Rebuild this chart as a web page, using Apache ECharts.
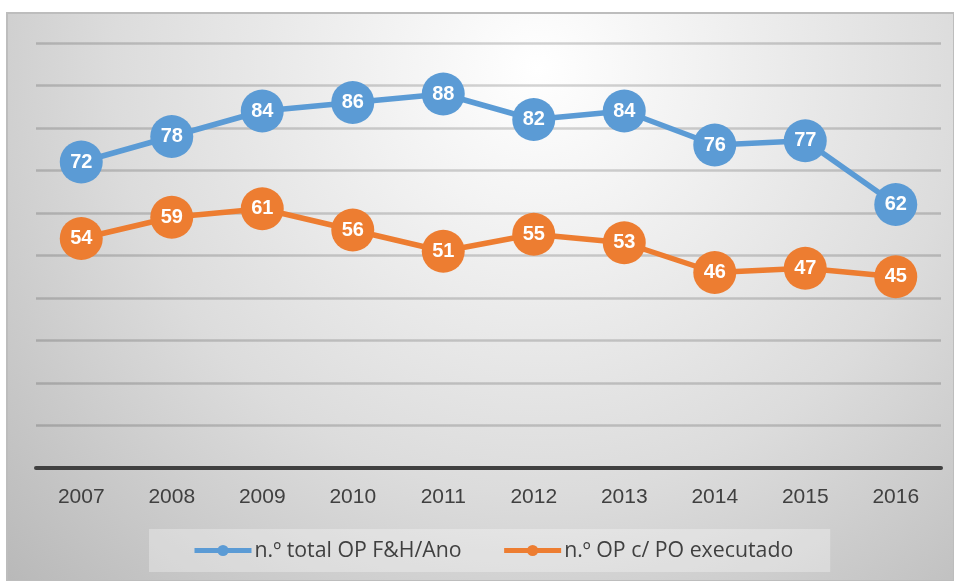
<!DOCTYPE html>
<html>
<head>
<meta charset="utf-8">
<script src="https://cdn.jsdelivr.net/npm/echarts@6/dist/echarts.min.js"></script>
<style>
html,body{margin:0;padding:0;background:#fff;}
#chart{width:954px;height:581px;}
</style>
</head>
<body>
<div id="chart"></div>
<script>
var categories = ['2007','2008','2009','2010','2011','2012','2013','2014','2015','2016'];
var seriesTotalName = 'n.º total OP F&H/Ano';
var seriesTotal = [72, 78, 84, 86, 88, 82, 84, 76, 77, 62];
var seriesExecName = 'n.º OP c/ PO executado';
var seriesExec = [54, 59, 61, 56, 51, 55, 53, 46, 47, 45];
var yTicks = [0, 10, 20, 30, 40, 50, 60, 70, 80, 90, 100];

var chart = echarts.init(document.getElementById('chart'), null, {renderer: 'canvas'});
var FONT = 'Liberation Sans';
function lineSeries(name, data, color) {
  return {
    name: name,
    type: 'line',
    data: data,
    symbol: 'circle',
    symbolSize: 43,
    z: 5,
    lineStyle: {color: color, width: 5.5},
    itemStyle: {color: color},
    label: {
      show: true,
      position: 'inside',
      color: '#ffffff',
      fontWeight: 'bold',
      fontSize: 20,
      fontFamily: FONT
    },
    emphasis: {disabled: true},
    animation: false
  };
}
chart.setOption({
  animation: false,
  graphic: [{
    type: 'rect',
    z: -10,
    silent: true,
    shape: {x: 7, y: 13, width: 947, height: 568},
    style: {
      fill: {
        type: 'radial', x: 0.56, y: 0.1, r: 1.35,
        colorStops: [
          {offset: 0, color: '#ffffff'},
          {offset: 0.55, color: '#dcdcdc'},
          {offset: 1, color: '#b5b5b5'}
        ]
      },
      stroke: '#bdbdbd',
      lineWidth: 2
    }
  }],
  grid: {left: 36, right: 13, top: 43, bottom: 113, containLabel: false},
  legend: {
    left: 149,
    top: 529,
    padding: [11, 37, 11, 43],
    backgroundColor: 'rgba(255,255,255,0.3)',
    itemWidth: 57,
    itemHeight: 14,
    itemGap: 40,
    lineStyle: {width: 5},
    textStyle: {color: '#404040', fontSize: 21.3, fontFamily: 'Open Sans', padding: [0, 0, 0, -2]},
    data: [seriesTotalName, seriesExecName]
  },
  xAxis: {
    type: 'category',
    data: categories,
    boundaryGap: true,
    axisTick: {show: false},
    axisLine: {show: true, lineStyle: {color: '#404040', width: 4}},
    axisLabel: {color: '#404040', fontSize: 21, fontFamily: FONT, margin: 19},
    splitLine: {show: false}
  },
  yAxis: {
    type: 'value',
    min: yTicks[0],
    max: yTicks[yTicks.length - 1],
    interval: yTicks[1] - yTicks[0],
    axisLabel: {show: false},
    axisLine: {show: false},
    axisTick: {show: false},
    splitLine: {lineStyle: {color: 'rgba(0,0,0,0.17)', width: 2.5}}
  },
  series: [
    lineSeries(seriesTotalName, seriesTotal, '#5b9bd5'),
    lineSeries(seriesExecName, seriesExec, '#ed7d31')
  ]
});
</script>
</body>
</html>
